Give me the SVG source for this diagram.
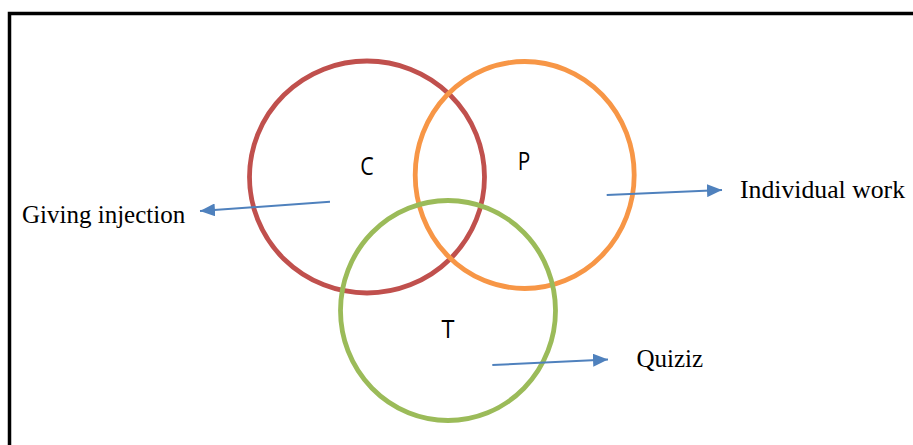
<svg xmlns="http://www.w3.org/2000/svg" width="913" height="445" viewBox="0 0 913 445">
<style>
.frame{stroke:#000;stroke-width:3.5;fill:none}
.ring{fill:none;stroke-width:4.8}
.arrow{stroke:#4F81BD;stroke-width:2;fill:none;marker-end:url(#head)}
.lbl{font-family:"Open Sans","Liberation Sans",sans-serif;font-size:26px;fill:#000;text-anchor:middle}
.note{font-family:"Liberation Serif","Times New Roman",serif;font-size:25px;fill:#000}
</style>
<defs>
<marker id="head" markerUnits="userSpaceOnUse" markerWidth="16" markerHeight="13" refX="15" refY="6.5" orient="auto">
<path d="M0,0 L15,6.5 L0,13 z" fill="#4F81BD"/>
</marker>
</defs>
<rect width="913" height="445" fill="#fff"/>
<g id="frame">
<path class="frame" d="M9.5,445 V13.5 H913"/>
</g>
<g id="node-C">
<ellipse class="ring" cx="367" cy="177" rx="117.5" ry="116" stroke="#C0504D"/>
<text class="lbl" x="367" y="174.5" textLength="13.5" lengthAdjust="spacingAndGlyphs">C</text>
</g>
<g id="node-P">
<ellipse class="ring" cx="524.7" cy="175" rx="109.5" ry="113.5" stroke="#F79646"/>
<text class="lbl" x="524" y="169.5" textLength="12.5" lengthAdjust="spacingAndGlyphs">P</text>
</g>
<g id="node-T">
<ellipse class="ring" cx="448" cy="310.5" rx="107.5" ry="110" stroke="#9BBB59"/>
<text class="lbl" x="448" y="337.5" textLength="13" lengthAdjust="spacingAndGlyphs">T</text>
</g>
<g id="connectors">
<line class="arrow" x1="330" y1="201.7" x2="200" y2="211"/>
<line class="arrow" x1="606.7" y1="195" x2="722" y2="190"/>
<line class="arrow" x1="492.3" y1="365" x2="608" y2="359.5"/>
</g>
<g id="label-giving">
<text class="note" x="22" y="223">Giving injection</text>
</g>
<g id="label-individual">
<text class="note" x="740" y="198.3" textLength="165" lengthAdjust="spacingAndGlyphs">Individual work</text>
</g>
<g id="label-quiziz">
<text class="note" x="636.5" y="367.3">Quiziz</text>
</g>
</svg>
